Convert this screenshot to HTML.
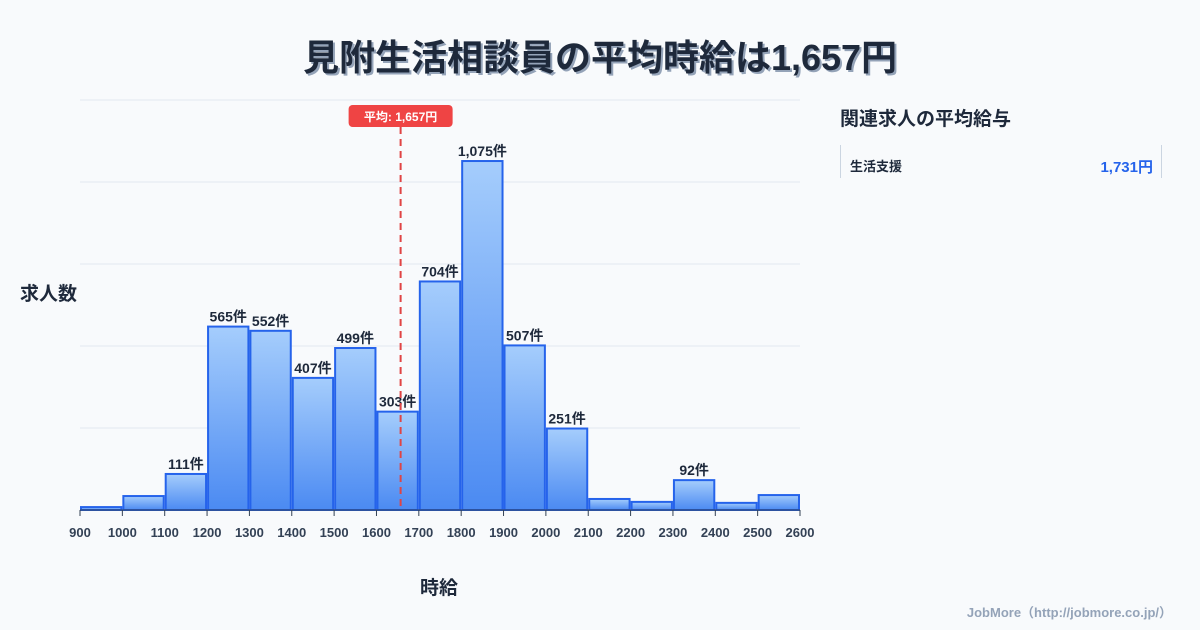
<!DOCTYPE html>
<html><head><meta charset="utf-8">
<style>
body{margin:0;width:1200px;height:630px;background:#f8fafc;font-family:"Liberation Sans","Noto Sans CJK JP",sans-serif;overflow:hidden;position:relative}
.t{position:absolute;color:#1e293b;font-weight:bold}
</style></head><body>
<div class="t" style="left:0;width:1200px;top:29px;text-align:center;font-size:36px;text-shadow:2px 2px 0 #94a3b8">見附生活相談員の平均時給は1,657円</div>
<div class="t" style="left:20px;top:279px;font-size:19px">求人数</div>
<div class="t" style="left:420px;top:573px;font-size:19px">時給</div>
<div class="t" style="left:840px;top:104px;font-size:19px">関連求人の平均給与</div>
<div style="position:absolute;left:840px;top:145px;width:320px;height:33px;border-left:1px solid #cbd5e1;border-right:1px solid #cbd5e1">
<span class="t" style="left:9px;top:11px;font-size:13px">生活支援</span>
<span class="t" style="right:8px;top:11px;font-size:15px;color:#2563eb">1,731円</span></div>
<div class="t" style="right:28px;top:602px;font-size:13px;color:#94a3b8">JobMore（http://jobmore.co.jp/）</div>
<svg id="c" width="1200" height="630" style="position:absolute;left:0;top:0">
<defs><linearGradient id="g" x1="0" y1="0" x2="0" y2="1"><stop offset="0" stop-color="#a5cdfc"/><stop offset="1" stop-color="#4b8af2"/></linearGradient></defs>
</svg>
<script>
const bins=[900,1000,1100,1200,1300,1400,1500,1600,1700,1800,1900,2000,2100,2200,2300,2400,2500];
const counts=[9,43,111,565,552,407,499,303,704,1075,507,251,34,25,92,22,46];
const labeled=[false,false,true,true,true,true,true,true,true,true,true,true,false,false,true,false,false];
const ticks=[900,1000,1100,1200,1300,1400,1500,1600,1700,1800,1900,2000,2100,2200,2300,2400,2500,2600];
const mean=1657;
const yMax=1263;
const svg=document.getElementById('c'),NS='http://www.w3.org/2000/svg';
const X=v=>80+(v-900)/1700*720, Y=v=>510-v/yMax*410;
function mk(t,a,p){const e=document.createElementNS(NS,t);for(const k in a)e.setAttribute(k,a[k]);(p||svg).appendChild(e);return e;}
for(let i=0;i<=5;i++){const l=mk('line',{x1:80,x2:800,y1:Y(yMax*i/5),y2:Y(yMax*i/5),stroke:'#e2e8f0'});

}
bins.forEach((b,i)=>{const x=X(b)+1,w=X(b+100)-X(b)-2,y=Y(counts[i]);
const r=mk('rect',{x:x,y:y,width:w,height:510-y,fill:'url(#g)',stroke:'#2563eb','stroke-width':2});


if(labeled[i]){const t=mk('text',{x:X(b+50),y:y-5,'text-anchor':'middle','font-size':14,'font-weight':'bold',fill:'#1e293b'});t.textContent=counts[i].toLocaleString()+'件';

}});
ticks.forEach(v=>{const l=mk('line',{x1:X(v),x2:X(v),y1:510,y2:516,stroke:'#334155'});


const t=mk('text',{x:X(v),y:537,'text-anchor':'middle','font-size':13,'font-weight':'bold',fill:'#334155'});t.textContent=v;

});
const ax=mk('line',{x1:80,x2:800,y1:510,y2:510,stroke:'#334155'});


const mx=X(mean);
const ml=mk('line',{x1:mx,x2:mx,y1:127,y2:510,stroke:'#e04444','stroke-width':2,'stroke-dasharray':'7,5'});


const mb=mk('rect',{x:mx-52,y:105,width:104,height:22,rx:4,fill:'#ef4444'});


const mt=mk('text',{x:mx,y:121,'text-anchor':'middle','font-size':12,'font-weight':'bold',fill:'#fff'});mt.textContent='平均: '+mean.toLocaleString()+'円';


</script>
</body></html>
